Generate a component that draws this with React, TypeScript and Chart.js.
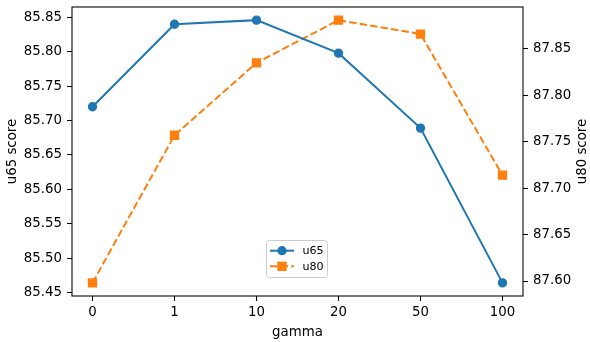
import React, { useEffect, useRef } from 'react';
import { Chart, registerables } from 'chart.js';

Chart.register(...registerables);

const gammaLabels: string[] = ['0', '1', '10', '20', '50', '100'];
const u65Scores: number[] = [85.72, 85.84, 85.846, 85.798, 85.689, 85.464];
const u80Scores: number[] = [87.598, 87.757, 87.835, 87.881, 87.866, 87.714];
const u65Ticks: number[] = [85.45, 85.5, 85.55, 85.6, 85.65, 85.7, 85.75, 85.8, 85.85];
const u80Ticks: number[] = [87.6, 87.65, 87.7, 87.75, 87.8, 87.85];

const BLUE = '#1f77b4';
const ORANGE = '#ff7f0e';
const FONT = 'DejaVu Sans';

function limits(vals: number[]) {
  const mn = Math.min(...vals);
  const mx = Math.max(...vals);
  const m = (mx - mn) * 0.05;
  return { min: mn - m, max: mx + m };
}

function zeroPad(s: any) {
  s.paddingTop = 0;
  s.paddingBottom = 0;
  s.paddingLeft = 0;
  s.paddingRight = 0;
}

const framePlugin = {
  id: 'mplFrame',
  afterDatasetsDraw(chart: any) {
    const { ctx, chartArea } = chart;
    ctx.save();
    ctx.strokeStyle = '#000';
    ctx.lineWidth = 1.07;
    ctx.strokeRect(chartArea.left, chartArea.top, chartArea.right - chartArea.left, chartArea.bottom - chartArea.top);
    ctx.restore();
  },
  afterDraw(chart: any) {
    const { ctx, chartArea } = chart;
    ctx.save();
    // right axis title (reads bottom to top)
    ctx.fillStyle = '#000';
    ctx.font = `13.33px "${FONT}"`;
    ctx.textAlign = 'center';
    ctx.textBaseline = 'middle';
    ctx.translate(582.5, (chartArea.top + chartArea.bottom) / 2);
    ctx.rotate(-Math.PI / 2);
    ctx.fillText('u80 score', 0, 0);
    ctx.restore();

    // legend
    ctx.save();
    const x0 = 266.5, y0 = 240.5, w = 61, h = 37, r = 3;
    ctx.beginPath();
    ctx.moveTo(x0 + r, y0);
    ctx.lineTo(x0 + w - r, y0);
    ctx.arcTo(x0 + w, y0, x0 + w, y0 + r, r);
    ctx.lineTo(x0 + w, y0 + h - r);
    ctx.arcTo(x0 + w, y0 + h, x0 + w - r, y0 + h, r);
    ctx.lineTo(x0 + r, y0 + h);
    ctx.arcTo(x0, y0 + h, x0, y0 + h - r, r);
    ctx.lineTo(x0, y0 + r);
    ctx.arcTo(x0, y0, x0 + r, y0, r);
    ctx.closePath();
    ctx.fillStyle = 'rgba(255,255,255,0.8)';
    ctx.fill();
    ctx.strokeStyle = '#cccccc';
    ctx.lineWidth = 1;
    ctx.stroke();

    const ds = chart.data.datasets;
    const rows = [250.7, 266.3];
    ds.forEach((d: any, i: number) => {
      const y = rows[i];
      ctx.strokeStyle = d.borderColor;
      ctx.lineWidth = 2;
      ctx.setLineDash(d.borderDash || []);
      ctx.beginPath();
      ctx.moveTo(270, y);
      ctx.lineTo(294, y);
      ctx.stroke();
      ctx.setLineDash([]);
      ctx.fillStyle = d.borderColor;
      if (d.pointStyle === 'rect') {
        ctx.fillRect(282 - 4.67, y - 4.67, 9.33, 9.33);
      } else {
        ctx.beginPath();
        ctx.arc(282, y, 4.67, 0, Math.PI * 2);
        ctx.fill();
      }
      ctx.fillStyle = '#000';
      ctx.font = `11.1px "${FONT}"`;
      ctx.textAlign = 'left';
      ctx.textBaseline = 'middle';
      ctx.fillText(d.label, 302.5, y + 0.5);
    });
    ctx.restore();
  },
};

export default function App() {
  const ref = useRef<HTMLCanvasElement | null>(null);

  useEffect(() => {
    if (!ref.current) return;
    const l65 = limits(u65Scores);
    const l80 = limits(u80Scores);
    const tickFont = { family: FONT, size: 13.33 };
    const gridCfg = {
      display: true,
      drawOnChartArea: false,
      drawTicks: true,
      tickLength: 5,
      tickWidth: 1.07,
      tickColor: '#000',
    };
    const chart = new Chart(ref.current, {
      type: 'line',
      data: {
        datasets: [
          {
            label: 'u65',
            data: u65Scores.map((v, i) => ({ x: i, y: v })),
            yAxisID: 'y',
            borderColor: BLUE,
            backgroundColor: BLUE,
            borderWidth: 2,
            pointStyle: 'circle',
            pointRadius: 4,
            pointBorderWidth: 1.33,
            pointBackgroundColor: BLUE,
            pointBorderColor: BLUE,
            tension: 0,
            clip: false,
          },
          {
            label: 'u80',
            data: u80Scores.map((v, i) => ({ x: i, y: v })),
            yAxisID: 'y1',
            borderColor: ORANGE,
            backgroundColor: ORANGE,
            borderWidth: 2,
            borderDash: [7.4, 3.2],
            pointStyle: 'rect',
            pointRadius: 5.66,
            pointBorderWidth: 1.33,
            pointBackgroundColor: ORANGE,
            pointBorderColor: ORANGE,
            tension: 0,
            clip: false,
          },
        ],
      } as any,
      options: {
        responsive: false,
        animation: false,
        devicePixelRatio: 1,
        layout: { padding: { top: 5, left: 0, right: 0, bottom: 0 } },
        plugins: { legend: { display: false }, tooltip: { enabled: false } },
        scales: {
          x: {
            type: 'linear',
            position: 'bottom',
            min: -0.25,
            max: gammaLabels.length - 0.75,
            grid: gridCfg,
            border: { display: false },
            afterBuildTicks: (s: any) => {
              s.ticks = gammaLabels.map((_, i) => ({ value: i }));
            },
            afterFit: (s: any) => {
              s.height = 46;
              zeroPad(s);
            },
            ticks: {
              font: tickFont,
              color: '#000',
              padding: 4,
              maxRotation: 0,
              autoSkip: false,
              callback: (v: any) => gammaLabels[Math.round(Number(v))],
            },
            title: {
              display: true,
              text: 'gamma',
              color: '#000',
              font: { family: FONT, size: 13.33 },
              padding: { top: 0, bottom: 1.5 },
            },
          },
          y: {
            type: 'linear',
            position: 'left',
            min: l65.min,
            max: l65.max,
            grid: gridCfg,
            border: { display: false },
            afterBuildTicks: (s: any) => {
              s.ticks = u65Ticks.map((v) => ({ value: v }));
            },
            afterFit: (s: any) => {
              s.width = 72;
              zeroPad(s);
            },
            ticks: {
              font: tickFont,
              color: '#000',
              padding: 5,
              autoSkip: false,
              callback: (v: any) => Number(v).toFixed(2),
            },
            title: {
              display: true,
              text: 'u65 score',
              color: '#000',
              font: { family: FONT, size: 13.33 },
              padding: { top: 4.5, bottom: 0 },
            },
          },
          y1: {
            type: 'linear',
            position: 'right',
            min: l80.min,
            max: l80.max,
            grid: gridCfg,
            border: { display: false },
            afterBuildTicks: (s: any) => {
              s.ticks = u80Ticks.map((v) => ({ value: v }));
            },
            afterFit: (s: any) => {
              s.width = 67;
              zeroPad(s);
            },
            ticks: {
              font: tickFont,
              color: '#000',
              padding: 5,
              autoSkip: false,
              callback: (v: any) => Number(v).toFixed(2),
            },
          },
        },
      } as any,
      plugins: [framePlugin],
    });
    return () => chart.destroy();
  }, []);

  return (
    <div style={{ position: 'absolute', left: 0, top: 0, width: 590, height: 342, background: '#fff' }}>
      <canvas ref={ref} width={590} height={342} style={{ display: 'block', width: 590, height: 342 }} />
    </div>
  );
}
